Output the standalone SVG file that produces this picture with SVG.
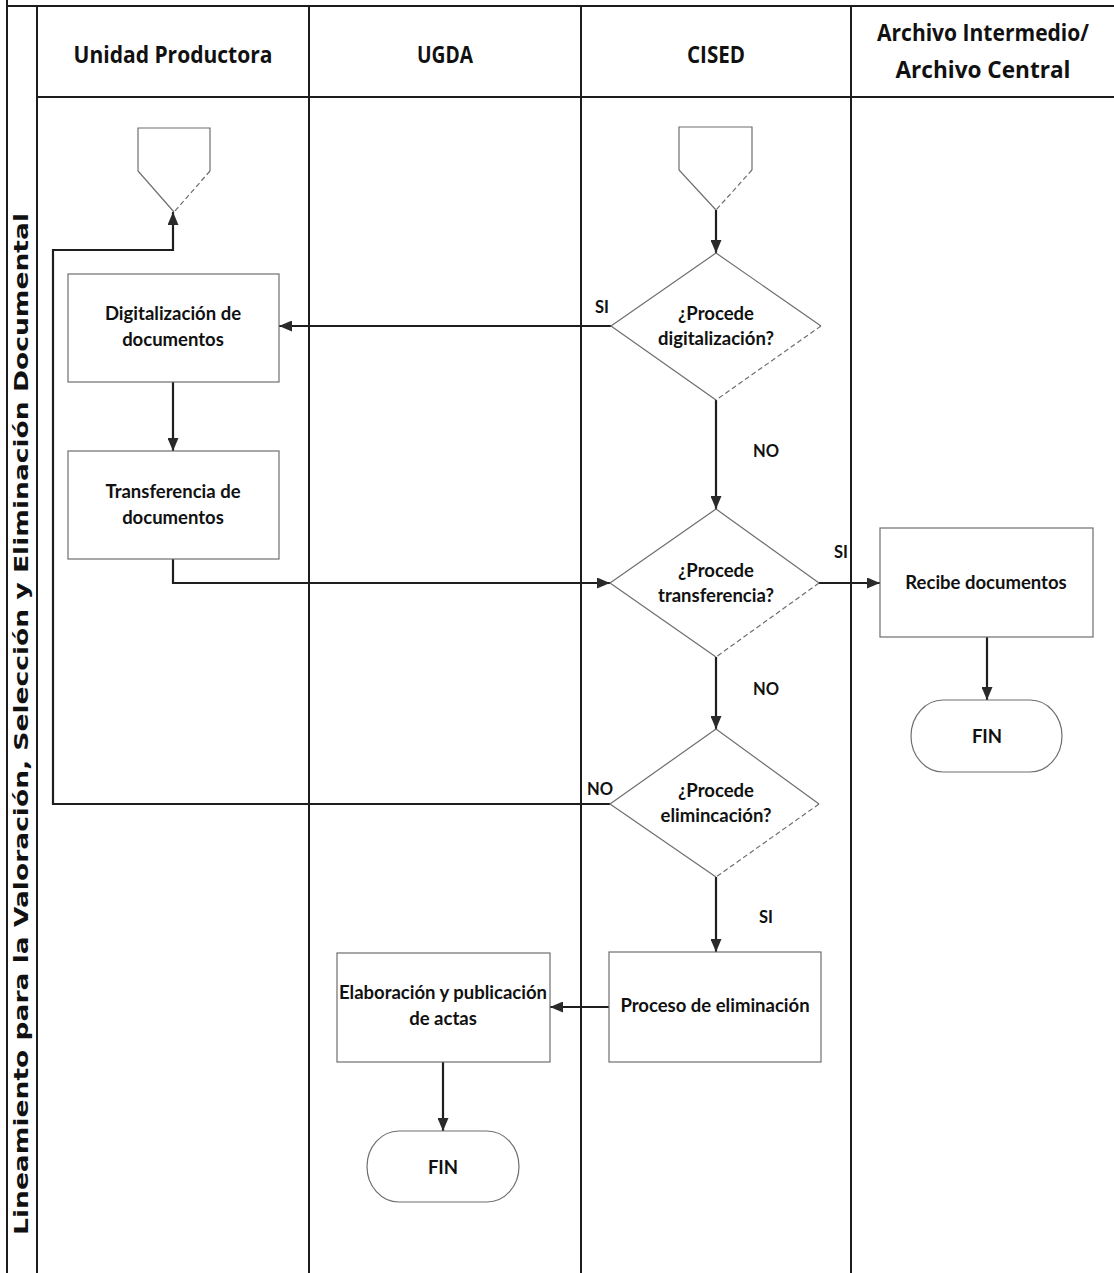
<svg xmlns="http://www.w3.org/2000/svg" width="1114" height="1273" viewBox="0 0 1114 1273">
<style>
.frame{stroke:#1c1c1c;stroke-width:2;fill:none}
.shape{fill:#ffffff;stroke:#6e6e6e;stroke-width:1.2}
.edge{fill:none;stroke:#6e6e6e;stroke-width:1.2}
.dash{fill:none;stroke:#6e6e6e;stroke-width:1.2;stroke-dasharray:5 3}
.conn{fill:none;stroke:#1e1e1e;stroke-width:2.2}
.hdr{font-family:"Open Sans","Liberation Sans",sans-serif;font-weight:700;font-size:23px;fill:#111;text-anchor:middle}
.txt{font-family:Lato,"Liberation Sans",sans-serif;font-weight:700;font-size:18.5px;fill:#111;text-anchor:middle}
.lbl{font-family:Lato,"Liberation Sans",sans-serif;font-weight:700;font-size:16.5px;fill:#111;text-anchor:middle}
.side{font-family:"DejaVu Sans","Liberation Sans",sans-serif;font-weight:bold;font-size:19.5px;fill:#111;text-anchor:middle}
</style>
<defs>
<marker id="ah" markerUnits="userSpaceOnUse" markerWidth="13" markerHeight="11" refX="13" refY="5.5" orient="auto">
<path d="M0,0 L13,5.5 L0,11 z" fill="#2a2a2a"/>
</marker>
</defs>
<rect x="0" y="0" width="1114" height="1273" fill="#ffffff"/>
<g id="frame">
<line class="frame" x1="7" y1="0" x2="7" y2="1273"/>
<line class="frame" x1="7" y1="6" x2="1114" y2="6"/>
<line class="frame" x1="37" y1="6" x2="37" y2="1273"/>
<line class="frame" x1="37" y1="97" x2="1114" y2="97"/>
<line class="frame" x1="309" y1="6" x2="309" y2="1273"/>
<line class="frame" x1="581" y1="6" x2="581" y2="1273"/>
<line class="frame" x1="851" y1="6" x2="851" y2="1273"/>
</g>
<g id="headers">
<text class="hdr" x="173" y="63" textLength="199" lengthAdjust="spacingAndGlyphs">Unidad Productora</text>
<text class="hdr" x="445" y="63" textLength="56" lengthAdjust="spacingAndGlyphs">UGDA</text>
<text class="hdr" x="716" y="63" textLength="58" lengthAdjust="spacingAndGlyphs">CISED</text>
<text class="hdr" x="983" y="41" textLength="212" lengthAdjust="spacingAndGlyphs">Archivo Intermedio/</text>
<text class="hdr" x="983" y="78" textLength="175" lengthAdjust="spacingAndGlyphs">Archivo Central</text>
</g>
<g id="side-title">
<text class="side" transform="translate(28,724) rotate(-90)" x="0" y="0" textLength="1022" lengthAdjust="spacingAndGlyphs">Lineamiento para la Valoración, Selección y Eliminación Documental</text>
</g>
<g id="connectors">
<path class="conn" d="M716,210 L716,253" marker-end="url(#ah)"/>
<path class="conn" d="M611,326 L279,326" marker-end="url(#ah)"/>
<path class="conn" d="M173,382 L173,451" marker-end="url(#ah)"/>
<path class="conn" d="M716,400 L716,509" marker-end="url(#ah)"/>
<path class="conn" d="M173,559 L173,583 L610,583" marker-end="url(#ah)"/>
<path class="conn" d="M819,583 L880,583" marker-end="url(#ah)"/>
<path class="conn" d="M987,637 L987,700" marker-end="url(#ah)"/>
<path class="conn" d="M716,657 L716,729" marker-end="url(#ah)"/>
<path class="conn" d="M610,804 L53,804 L53,250 L173,250 L173,212" marker-end="url(#ah)"/>
<path class="conn" d="M716,877 L716,952" marker-end="url(#ah)"/>
<path class="conn" d="M609,1007 L550,1007" marker-end="url(#ah)"/>
<path class="conn" d="M443,1062 L443,1131" marker-end="url(#ah)"/>
</g>
<g id="edge-labels">
<text class="lbl" x="602" y="313">SI</text>
<text class="lbl" x="766" y="457">NO</text>
<text class="lbl" x="841" y="558">SI</text>
<text class="lbl" x="766" y="695">NO</text>
<text class="lbl" x="600" y="795">NO</text>
<text class="lbl" x="766" y="923">SI</text>
</g>
<g id="start-up">
<polygon points="138,128 210,128 210,171 174,212 138,171" fill="#ffffff" stroke="none"/>
<path class="edge" d="M174,212 L138,171 L138,128 L210,128 L210,171"/>
<path class="dash" d="M210,171 L174,212"/>
</g>
<g id="start-cised">
<polygon points="679,127 752,127 752,170 716,210 679,170" fill="#ffffff" stroke="none"/>
<path class="edge" d="M716,210 L679,170 L679,127 L752,127 L752,170"/>
<path class="dash" d="M752,170 L716,210"/>
</g>
<g id="digitalizacion">
<rect class="shape" x="68" y="274" width="211" height="108"/>
<text class="txt" x="173" y="320">Digitalización de</text>
<text class="txt" x="173" y="346">documentos</text>
</g>
<g id="transferencia">
<rect class="shape" x="68" y="451" width="211" height="108"/>
<text class="txt" x="173" y="498">Transferencia de</text>
<text class="txt" x="173" y="524">documentos</text>
</g>
<g id="decision-digitalizacion">
<polygon points="716,253 821,326 716,400 611,326" fill="#ffffff" stroke="none"/>
<path class="edge" d="M716,400 L611,326 L716,253 L821,326"/>
<path class="dash" d="M821,326 L716,400"/>
<text class="txt" x="716" y="320">¿Procede</text>
<text class="txt" x="716" y="345">digitalización?</text>
</g>
<g id="decision-transferencia">
<polygon points="716,509 819,583 716,657 610,583" fill="#ffffff" stroke="none"/>
<path class="edge" d="M716,657 L610,583 L716,509 L819,583"/>
<path class="dash" d="M819,583 L716,657"/>
<text class="txt" x="716" y="577">¿Procede</text>
<text class="txt" x="716" y="602">transferencia?</text>
</g>
<g id="decision-eliminacion">
<polygon points="716,729 819,804 716,877 610,804" fill="#ffffff" stroke="none"/>
<path class="edge" d="M716,877 L610,804 L716,729 L819,804"/>
<path class="dash" d="M819,804 L716,877"/>
<text class="txt" x="716" y="797">¿Procede</text>
<text class="txt" x="716" y="822">elimincación?</text>
</g>
<g id="recibe">
<rect class="shape" x="880" y="528" width="213" height="109"/>
<text class="txt" x="986" y="589">Recibe documentos</text>
</g>
<g id="fin-archivo">
<rect class="shape" x="911" y="700" width="151" height="72" rx="32" ry="36"/>
<text class="txt" x="987" y="743">FIN</text>
</g>
<g id="proceso-eliminacion">
<rect class="shape" x="609" y="952" width="212" height="110"/>
<text class="txt" x="715" y="1012">Proceso de eliminación</text>
</g>
<g id="elaboracion">
<rect class="shape" x="337" y="953" width="213" height="109"/>
<text class="txt" x="443" y="999">Elaboración y publicación</text>
<text class="txt" x="443" y="1025">de actas</text>
</g>
<g id="fin-ugda">
<rect class="shape" x="367" y="1131" width="152" height="71" rx="32" ry="35.5"/>
<text class="txt" x="443" y="1174">FIN</text>
</g>
</svg>
